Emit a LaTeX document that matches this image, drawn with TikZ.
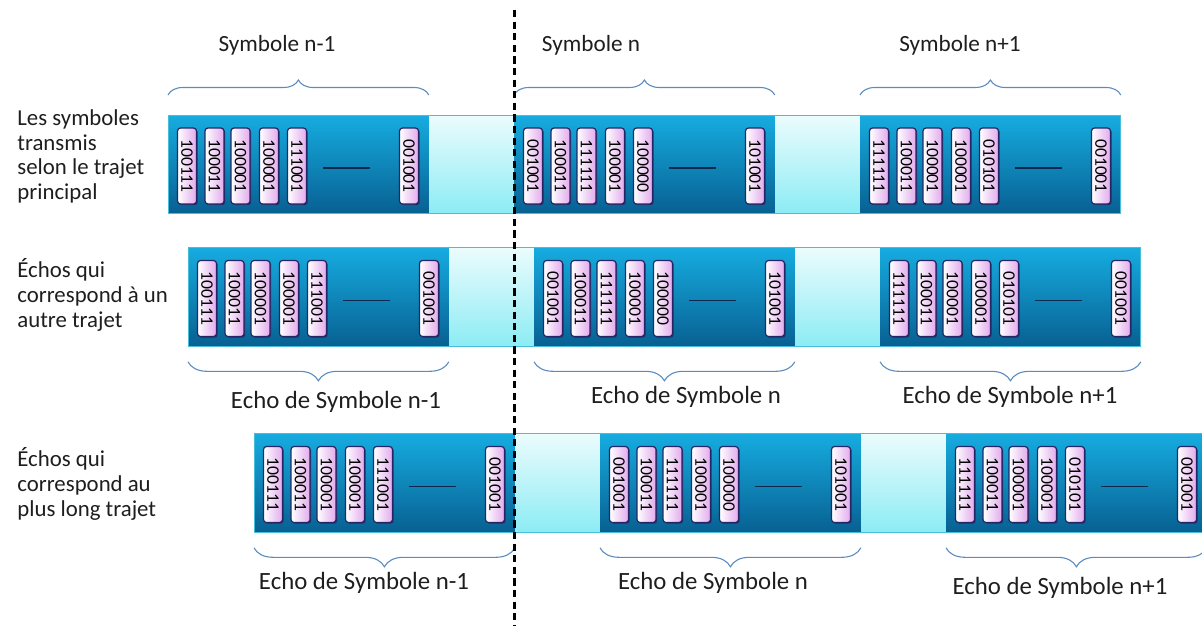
\documentclass[tikz,border=0pt]{standalone}
\usepackage{fontspec}
\setmainfont{Carlito}
\usetikzlibrary{decorations.pathreplacing,shadows}

\definecolor{barTop}{RGB}{22,172,224}
\definecolor{barBot}{RGB}{8,96,146}
\definecolor{barEdge}{RGB}{70,190,218}
\definecolor{guardTop}{RGB}{236,252,253}
\definecolor{guardBot}{RGB}{140,236,244}
\definecolor{bitPink}{RGB}{226,170,236}
\definecolor{bitEdge}{RGB}{38,38,100}
\definecolor{gapLine}{RGB}{12,40,78}
\definecolor{braceCol}{RGB}{92,140,190}
\definecolor{txt}{RGB}{30,30,30}

\tikzset{
  darkseg/.style={rectangle, inner sep=0pt, draw=none, top color=barTop, bottom color=barBot,
                  minimum width=130pt},
  guardfill/.style={top color=guardTop, bottom color=guardBot},
  baredge/.style={draw=barEdge, line width=0.5pt},
  bitbox/.style={rectangle, rounded corners=1.5pt, draw=bitEdge, line width=0.6pt,
                 left color=white, right color=bitPink, inner sep=0pt,
                 minimum width=9.5pt, minimum height=38pt,
                 drop shadow={shadow xshift=0.6pt, shadow yshift=-0.6pt, fill=bitEdge, opacity=0.85},
                 font=\fontsize{8.8}{9}\selectfont, text=black},
  gapdash/.style={draw=gapLine, line width=0.7pt},
  bracetop/.style={draw=braceCol, line width=0.55pt, decorate, decoration={brace, amplitude=7.5pt}},
  bracebot/.style={draw=braceCol, line width=0.55pt, decorate, decoration={brace, amplitude=9.5pt}},
  toplbl/.style={inner sep=0pt, text=txt, font=\fontsize{11.6}{13}\selectfont},
  botlbl/.style={inner sep=0pt, text=txt, font=\fontsize{12.4}{14}\selectfont},
  rowlbl/.style={inner sep=0pt, text=txt, align=left, anchor=north west,
                 font=\fontsize{11.4}{12.4}\selectfont},
  cut/.style={draw=black, line width=1.1pt, dash pattern=on 3.6pt off 2.2pt}
}

\begin{document}
\begin{tikzpicture}[x=0.5pt, y=-0.5pt]
\useasboundingbox (0,0) rectangle (1202,626);
\clip (0,0) rectangle (1202,626);

% three copies of the same frame sequence: row / left edge / top / half height
\foreach \r/\xo/\yt/\h in {1/168/115/49, 2/188/247/49.5, 3/254/433/49.5} {
  % guard intervals between the symbols
  \foreach \g in {0,1}
    \fill[guardfill] ({\xo+260+346*\g},\yt) rectangle ++(86,{2*\h});
  % useful part of each symbol
  \foreach \sg in {0,1,2}
    \node[darkseg, minimum height=\h pt, anchor=north west] (seg-\r-\sg) at ({\xo+346*\sg},\yt) {};
  \draw[baredge] (\xo,\yt) rectangle ++(952,{2*\h});
  % bit groups carried by each symbol
  \foreach \code [count=\k from 0] in {100111,100011,100001,100001,111001,001001,
                                      001001,100011,111111,100001,100000,101001,
                                      111111,100011,100001,100001,010101,001001} {
    \pgfmathtruncatemacro\sg{div(\k,6)}
    \pgfmathtruncatemacro\bi{mod(\k,6)}
    \pgfmathsetmacro\bx{\xo+346*\sg+{19,46.5,72.5,101,129,241}[\bi]}
    \node[bitbox] (bit-\r-\sg-\bi) at (\bx,{\yt+\h+2}) {\rotatebox{-90}{\code}};
  }
  % elided bits
  \foreach \sg in {0,1,2}
    \draw[gapdash] ({\xo+346*\sg+155},{\yt+\h+4}) -- ++(47,0);
}

% braces over the transmitted symbols
\foreach \sg in {0,1,2}
  \draw[bracetop] ([yshift=10pt]seg-1-\sg.north west) -- ([yshift=10pt]seg-1-\sg.north east);
% braces under the echoes
\foreach \r in {2,3}
  \foreach \sg in {0,1,2}
    \draw[bracebot] ([yshift=-7.5pt]seg-\r-\sg.south east) -- ([yshift=-7.5pt]seg-\r-\sg.south west);

% symbol names
\node[toplbl] (t1) at (277,45) {Symbole n-1};
\node[toplbl] (t2) at (591,45) {Symbole n};
\node[toplbl] (t3) at (960,45) {Symbole n+1};

\node[botlbl] (e21) at (336,402) {Echo de Symbole n-1};
\node[botlbl] (e22) at (686,397) {Echo de Symbole n};
\node[botlbl] (e23) at (1010,397) {Echo de Symbole n+1};

\node[botlbl] (e31) at (364,583) {Echo de Symbole n-1};
\node[botlbl] (e32) at (713,583) {Echo de Symbole n};
\node[botlbl] (e33) at (1060,588) {Echo de Symbole n+1};

% row captions
\node[rowlbl] (c1) at (17,109) {Les symboles\\transmis\\selon le trajet\\principal};
\node[rowlbl] (c2) at (17,258) {Échos qui\\correspond à un\\autre trajet};
\node[rowlbl] (c3) at (17,447) {Échos qui\\correspond au\\plus long trajet};

% symbol boundary
\coordinate (cutTop) at (514.5,10);
\coordinate (cutBot) at (514.5,626);
\draw[cut] (cutTop) -- (cutBot);
\end{tikzpicture}
\end{document}
